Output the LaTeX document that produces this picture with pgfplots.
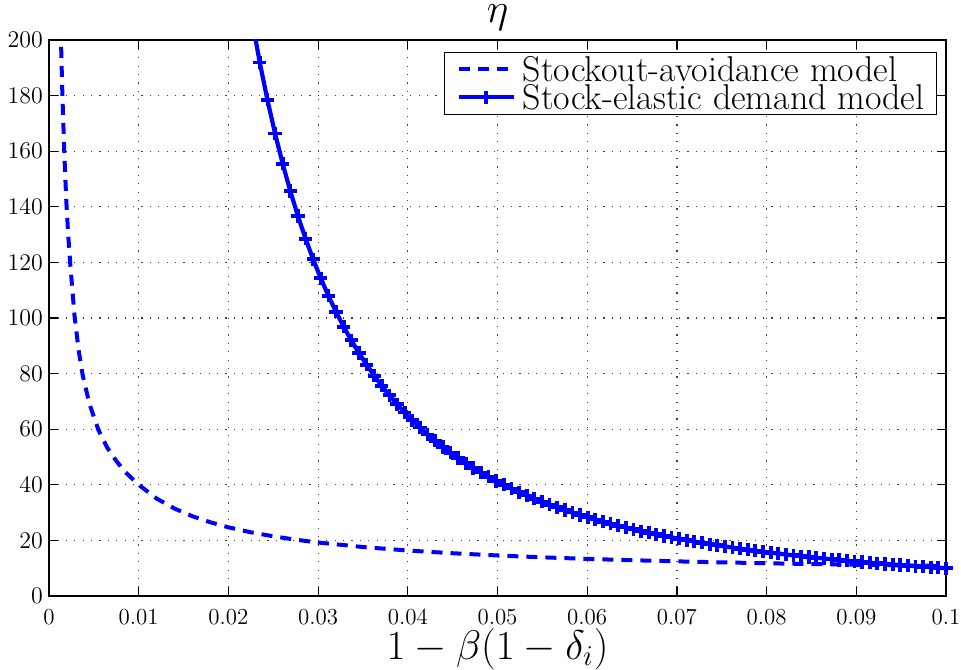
\documentclass[border=0pt]{standalone}
\usepackage{pgfplots}
\pgfplotsset{compat=1.18}
\begin{document}
\begin{tikzpicture}
\path[use as bounding box] (-24.5bp,-37bp) rectangle (456bp,298bp);
\begin{axis}[
  scale only axis, width=448.5bp, height=278bp,
  xmin=0, xmax=0.1, ymin=0, ymax=200,
  xtick={0,0.01,0.02,0.03,0.04,0.05,0.06,0.07,0.08,0.09,0.1},
  xticklabels={0,0.01,0.02,0.03,0.04,0.05,0.06,0.07,0.08,0.09,0.1},
  ytick={0,20,40,60,80,100,120,140,160,180,200},
  scaled x ticks=false,
  tick align=inside, tick pos=both,
  xticklabel pos=lower, yticklabel pos=left,
  major tick length=4.5bp,
  every tick/.style={black, line width=0.6bp},
  axis line style={line width=0.75bp, black},
  grid=major,
  major grid style={line width=0.6bp, dash pattern=on 0.6bp off 3.6bp, black!75},
  tick label style={font=\fontsize{11.5}{13}\selectfont},
  xticklabel style={inner sep=0pt, yshift=-6.5bp},
  yticklabel style={inner sep=0pt, xshift=-2.9bp},
  title={$\eta$},
  title style={font=\fontsize{20}{24}\selectfont, at={(axis description cs:0.5,1)}, anchor=base, yshift=3bp, inner sep=0pt},
  xlabel={$1-\beta(1-\delta_i)$},
  xlabel style={font=\fontsize{21}{25}\selectfont, at={(axis description cs:0.5,0)}, anchor=base, yshift=-31.6bp, inner sep=0pt},
  legend style={at={(axis description cs:1,1)}, anchor=north east, xshift=-4.5bp, yshift=-6bp,
    draw=black, line width=0.5bp, fill=white,
    font=\fontsize{18}{18}\selectfont,
    inner xsep=6bp, inner ysep=2bp, row sep=1.2bp,
    nodes={inner sep=0pt, text height=12.5bp, text depth=0.3bp},
    /tikz/every odd column/.append style={column sep=3.4bp}},
  legend cell align=left,
  legend image code/.code={\draw[mark repeat=2,mark phase=2,#1] plot coordinates {(0bp,0bp) (13.8bp,0bp) (27.6bp,0bp)};},
]
\addplot[blue, line width=2bp, dash pattern=on 5.5bp off 4bp] coordinates {
(0.00122,218) (0.00134,199.4) (0.00149,180.5) (0.00171,159) (0.00193,142)
(0.00215,129.5) (0.00238,119) (0.00284,101) (0.0033,88.5) (0.00375,79.5)
(0.0045,69.2) (0.0055,59.8) (0.0065,53.3) (0.0075,48.6) (0.0085,44.6)
(0.01,40.0) (0.012,35.05) (0.014,31.44) (0.016,28.67) (0.018,26.50)
(0.02,24.7) (0.0225,22.92) (0.025,21.47) (0.0275,20.26) (0.03,19.24)
(0.035,17.61) (0.04,16.36) (0.045,15.38) (0.05,14.58) (0.055,13.91)
(0.06,13.35) (0.065,12.87) (0.07,12.46) (0.075,12.10) (0.08,11.78)
(0.085,11.49) (0.09,11.24) (0.095,11.01) (0.1,10.80)
};
\addlegendentry{Stockout-avoidance model}
\addplot[blue, line width=2.1bp, mark=+, mark size=3.3bp, mark options={solid, line width=1.9bp}] coordinates {
(0.02265,206.86) (0.0235,191.88) (0.02435,178.47) (0.0252,166.40) (0.02605,155.51)
(0.0269,145.65) (0.02775,136.69) (0.0286,128.53) (0.02945,121.08) (0.0303,114.25)
(0.03115,107.98) (0.032,102.21) (0.03285,96.887) (0.0337,91.967) (0.03455,87.411)
(0.0354,83.183) (0.03625,79.252) (0.0371,75.592) (0.03795,72.178) (0.0388,68.989)
(0.03965,66.006) (0.0405,63.210) (0.04135,60.588) (0.0422,58.125) (0.04305,55.807)
(0.0439,53.626) (0.04475,51.568) (0.0456,49.626) (0.04645,47.791) (0.0473,46.056)
(0.04815,44.412) (0.049,42.855) (0.04985,41.377) (0.0507,39.974) (0.05155,38.642)
(0.0524,37.374) (0.05325,36.167) (0.0541,35.017) (0.05495,33.921) (0.0558,32.875)
(0.05665,31.877) (0.0575,30.923) (0.05835,30.011) (0.0592,29.138) (0.06005,28.303)
(0.0609,27.503) (0.06175,26.736) (0.0626,26.001) (0.06345,25.295) (0.0643,24.618)
(0.06515,23.967) (0.066,23.342) (0.06685,22.740) (0.0677,22.161) (0.06855,21.605)
(0.0694,21.068) (0.07025,20.551) (0.0711,20.053) (0.07195,19.573) (0.0728,19.110)
(0.07365,18.662) (0.0745,18.231) (0.07535,17.814) (0.0762,17.411) (0.07705,17.021)
(0.0779,16.644) (0.07875,16.280) (0.0796,15.927) (0.08045,15.586) (0.0813,15.255)
(0.08215,14.935) (0.083,14.624) (0.08385,14.324) (0.0847,14.032) (0.08555,13.749)
(0.0864,13.474) (0.08725,13.208) (0.0881,12.949) (0.08895,12.698) (0.0898,12.454)
(0.09065,12.217) (0.0915,11.987) (0.09235,11.763) (0.0932,11.545) (0.09405,11.333)
(0.0949,11.127) (0.09575,10.926) (0.0966,10.731) (0.09745,10.541) (0.0983,10.356)
(0.09915,10.176) (0.1,10.0)
};
\addlegendentry{Stock-elastic demand model}
\end{axis}
\end{tikzpicture}
\end{document}
